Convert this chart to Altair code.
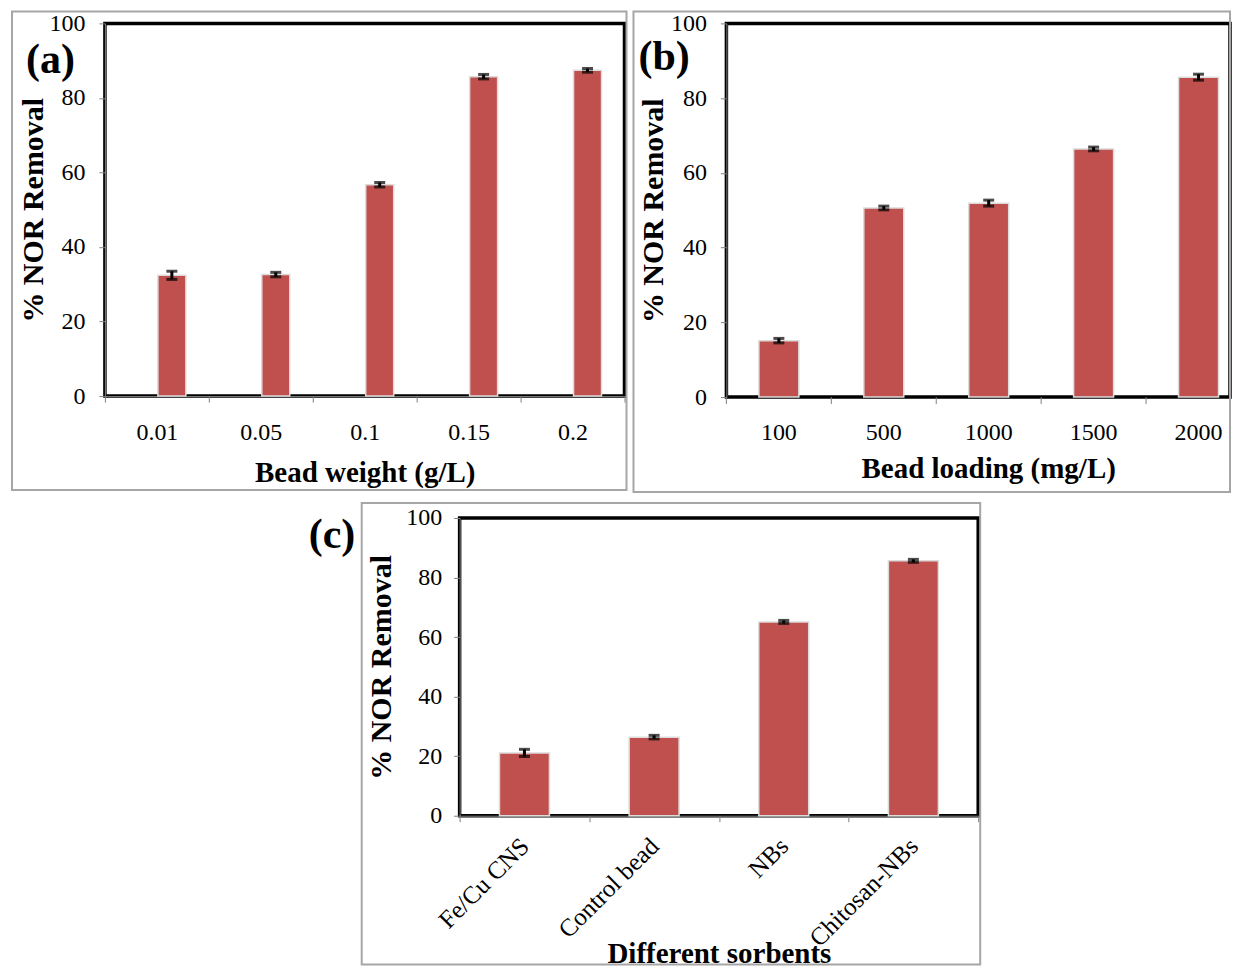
import altair as alt
import pandas as pd

# ---------------- data ----------------
A_CATS = ["0.01", "0.05", "0.1", "0.15", "0.2"]
A_VALS = [32.4, 32.6, 56.7, 85.7, 87.4]
A_ERRS = [1.1, 0.6, 0.6, 0.6, 0.5]

B_CATS = ["100", "500", "1000", "1500", "2000"]
B_VALS = [15.1, 50.6, 51.9, 66.4, 85.6]
B_ERRS = [0.6, 0.5, 0.8, 0.5, 0.8]

C_CATS = ["Fe/Cu CNS", "Control bead", "NBs", "Chitosan-NBs"]
C_VALS = [21.1, 26.4, 65.1, 85.6]
C_ERRS = [1.2, 0.6, 0.5, 0.5]

Y_TICKS = [0, 20, 40, 60, 80, 100]
Y_TITLE = "% NOR Removal"

SERIF = "Liberation Serif"
BAR = "#C0504D"
AXIS_GRAY = "#808080"
FRAME_GRAY = "#a6a6a6"
LABEL_SIZE = 24
TITLE_SIZE = 29


def panel(cats, vals, errs, x_title, letter, w, h, bar_w, bar_dx, frame,
          letter_xy, y_title_x, y_label_pad, x_label_angle, x_label_size,
          x_label_pad, x_title_y, x_range=None):
    df = pd.DataFrame({
        "cat": cats,
        "val": vals,
        "lo": [v - e for v, e in zip(vals, errs)],
        "hi": [v + e for v, e in zip(vals, errs)],
    })
    yscale = alt.Scale(domain=[0, 100], nice=False, zero=True)
    if x_range is None:
        xscale = alt.Scale(paddingInner=0, paddingOuter=0)
        xa = dict(tickBand="extent", labelPadding=x_label_pad, title=x_title,
                  labelAngle=x_label_angle, labelFontSize=x_label_size,
                  titleY=x_title_y, titleBaseline="middle")
        if x_label_angle != 0:
            xa.update(labelAlign="right", labelBaseline="middle")
        x_axis = alt.Axis(**xa)
    else:
        # the plot area runs past the right edge of the picture; the band scale
        # keeps its full length, the x axis is drawn from marks
        xscale = alt.Scale(paddingInner=0, paddingOuter=0, range=[0, x_range])
        x_axis = None
    y_axis = alt.Axis(values=Y_TICKS, title=Y_TITLE, titleX=y_title_x,
                      titleY=h / 2, titleAngle=270, titleAlign="center",
                      titleBaseline="middle", titleFontSize=30,
                      labelPadding=y_label_pad)

    def X():
        return alt.X("cat:N", sort=cats, scale=xscale, axis=x_axis)

    def Y(field):
        return alt.Y(field, scale=yscale, axis=y_axis)

    base = alt.Chart(df)
    bars = base.mark_bar(width=bar_w, xOffset=bar_dx, color=BAR,
                         stroke="#dcdcdc", strokeWidth=1.5).encode(x=X(), y=Y("val:Q"))
    rule = base.mark_rule(color="black", strokeWidth=3, xOffset=bar_dx).encode(
        x=X(), y=Y("lo:Q"), y2="hi:Q")
    cap_lo = base.mark_tick(color="black", thickness=3, size=11, xOffset=bar_dx).encode(
        x=X(), y=Y("lo:Q"))
    cap_hi = base.mark_tick(color="black", thickness=3, size=11, xOffset=bar_dx).encode(
        x=X(), y=Y("hi:Q"))
    layers = [bars, rule, cap_lo, cap_hi]

    one = pd.DataFrame({"k": [0]})
    if x_range is not None:
        step = x_range / len(cats)
        ticks = base.mark_rule(color=AXIS_GRAY, strokeWidth=1, xOffset=-step / 2).encode(
            x=X(), y=alt.value(h), y2=alt.value(h + 7))
        labels = base.mark_text(font=SERIF, fontSize=x_label_size, color="black",
                                baseline="middle").encode(
            x=X(), y=alt.value(h + 36), text="cat:N")
        xt = alt.Chart(one).mark_text(text=x_title, font=SERIF, fontSize=TITLE_SIZE,
                                      fontWeight="bold", color="black",
                                      baseline="middle").encode(
            x=alt.value(x_range / 2), y=alt.value(h + x_title_y))
        layers += [ticks, labels, xt]

    fx0, fx1, fy0, fy1 = frame
    box = alt.Chart(one).mark_rect(filled=False, stroke=FRAME_GRAY, strokeWidth=2).encode(
        x=alt.value(fx0), x2=alt.value(fx1), y=alt.value(fy0), y2=alt.value(fy1))
    lab = alt.Chart(one).mark_text(text=letter, font=SERIF, fontSize=42, fontWeight="bold",
                                   align="left", baseline="alphabetic", color="black").encode(
        x=alt.value(letter_xy[0]), y=alt.value(letter_xy[1]))
    layers += [box, lab]

    return alt.layer(*layers).properties(width=w, height=h)


pa = panel(A_CATS, A_VALS, A_ERRS, "Bead weight (g/L)", "(a)", 520, 373, 28, 15,
           (-93, 522, -12, 467), (-79, 50), -71, 14, 0, LABEL_SIZE, 18, 76)
pb = panel(B_CATS, B_VALS, B_ERRS, "Bead loading (mg/L)", "(b)", 504, 374, 40, 0,
           (-93, 504, -12, 469), (-88, 47), -73, 14, 0, LABEL_SIZE, 18, 72, x_range=525)
pc = panel(C_CATS, C_VALS, C_ERRS, "Different sorbents", "(c)", 519, 298, 50, 0,
           (-98, 521, -15, 447), (-151, 30), -78, 12, -45, 25, 20, 138)

spacer = alt.Chart(pd.DataFrame({"k": [0]})).mark_text(text=" ").encode(
    x=alt.value(0), y=alt.value(0)
).properties(width=200, height=10, view=alt.ViewBackground(stroke="transparent"))

chart = alt.vconcat(
    alt.hconcat(pa, pb, spacing=1),
    alt.hconcat(spacer, pc, spacing=0),
    spacing=5,
).properties(
    padding={"left": 1, "top": 0, "right": 0, "bottom": 0}
).configure_view(
    stroke="black", strokeWidth=3.5
).configure_axis(
    labelFont=SERIF, labelFontSize=LABEL_SIZE, labelColor="black",
    titleFont=SERIF, titleFontSize=TITLE_SIZE, titleFontWeight="bold", titleColor="black",
    tickColor=AXIS_GRAY, domainColor=AXIS_GRAY, tickSize=6, grid=False,
)

chart.save("out.html", embed_options={"renderer": "svg", "actions": False})
